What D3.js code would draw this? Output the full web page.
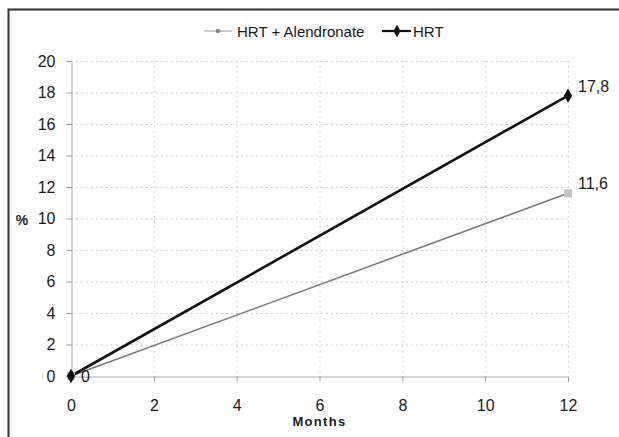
<!DOCTYPE html>
<html>
<head>
<meta charset="utf-8">
<script src="https://cdn.jsdelivr.net/npm/d3@7"></script>
<style>
  body { margin: 0; background: #fff; }
  svg { display: block; font-family: Arial, "Liberation Sans", sans-serif; }
</style>
</head>
<body>
<svg id="chart" width="619" height="437"></svg>
<script>
// data
var months = [0, 12];
var hrtAlendronate = [0, 11.6];
var hrt = [0, 17.8];
var xTicks = [0, 2, 4, 6, 8, 10, 12];
var yTicks = [0, 2, 4, 6, 8, 10, 12, 14, 16, 18, 20];
var seriesNames = ['HRT + Alendronate', 'HRT'];

var svg = d3.select('#chart');

// frame (top and left edge only, like the scan)
svg.append('path')
   .attr('d', 'M8.5,437 V9.5 H619')
   .attr('fill', 'none')
   .attr('stroke', '#333')
   .attr('stroke-width', 2);

var x = d3.scaleLinear().domain([0, 12]).range([71, 568]);
var y = d3.scaleLinear().domain([0, 20]).range([376, 61]);

// gridlines
svg.append('g').selectAll('line')
   .data(yTicks.filter(function(d){ return d > 0; }))
   .enter().append('line')
   .attr('x1', x(0)).attr('x2', x(12))
   .attr('y1', function(d){ return y(d) + 0.5; })
   .attr('y2', function(d){ return y(d) + 0.5; })
   .attr('stroke', '#bdbdbd')
   .attr('stroke-dasharray', '1.5,3.5');

svg.append('g').selectAll('line')
   .data(xTicks.filter(function(d){ return d > 0; }))
   .enter().append('line')
   .attr('x1', function(d){ return x(d) + 0.5; })
   .attr('x2', function(d){ return x(d) + 0.5; })
   .attr('y1', y(20)).attr('y2', y(0))
   .attr('stroke', '#c8c8c8')
   .attr('stroke-dasharray', '1.5,3.5');

// axes
var xAxis = svg.append('g')
   .attr('transform', 'translate(0,' + (y(0) + 0.5) + ')')
   .call(d3.axisBottom(x).tickValues(xTicks).tickSize(5).tickPadding(18));
var yAxis = svg.append('g')
   .attr('transform', 'translate(' + (x(0) + 0.5) + ',0)')
   .call(d3.axisLeft(y).tickValues(yTicks).tickSize(5).tickPadding(11));

[xAxis, yAxis].forEach(function(a){
  a.select('.domain').attr('stroke', '#aaa');
  a.selectAll('.tick line').attr('stroke', '#999');
  a.selectAll('.tick text').attr('font-size', 16).attr('fill', '#1a1a1a')
   .attr('font-family', 'Arial, "Liberation Sans", sans-serif');
});

// axis titles
svg.append('text')
   .attr('x', x(6)).attr('y', 426)
   .attr('text-anchor', 'middle')
   .attr('font-size', 13).attr('font-weight', 'bold')
   .attr('letter-spacing', 1.3)
   .attr('fill', '#1a1a1a')
   .text('Months');
svg.append('text')
   .attr('x', 22).attr('y', y(10) + 6)
   .attr('text-anchor', 'middle')
   .attr('font-size', 14).attr('font-weight', 'bold')
   .attr('fill', '#1a1a1a')
   .text('%');

var line = d3.line()
   .x(function(d){ return x(d[0]); })
   .y(function(d){ return y(d[1]); });

var grey = d3.zip(months, hrtAlendronate);
var black = d3.zip(months, hrt);

svg.append('path').datum(grey)
   .attr('d', line).attr('fill', 'none')
   .attr('stroke', '#7a7a7a').attr('stroke-width', 1.6);
svg.append('path').datum(black)
   .attr('d', line).attr('fill', 'none')
   .attr('stroke', '#111').attr('stroke-width', 2.6);

// markers
svg.append('g').selectAll('rect')
   .data(grey).enter().append('rect')
   .attr('x', function(d){ return x(d[0]) - 4; })
   .attr('y', function(d){ return y(d[1]) - 4; })
   .attr('width', 8).attr('height', 8)
   .attr('fill', '#c4c4c4');
var diamond = d3.symbol().type(d3.symbolDiamond).size(60);
svg.append('g').selectAll('path')
   .data(black).enter().append('path')
   .attr('transform', function(d){ return 'translate(' + x(d[0]) + ',' + y(d[1]) + ')'; })
   .attr('d', diamond)
   .attr('fill', '#111');

// data labels
var labels = [
  { m: months[1], v: hrt[1], t: '17,8' },
  { m: months[1], v: hrtAlendronate[1], t: '11,6' },
  { m: months[0], v: hrt[0], t: '0' }
];
svg.append('g').selectAll('text')
   .data(labels).enter().append('text')
   .attr('x', function(d){ return x(d.m) + 10; })
   .attr('y', function(d){ return y(d.v) - (d.m ? 4 : -6); })
   .attr('font-size', 16).attr('fill', '#1a1a1a')
   .text(function(d){ return d.t; });

// legend
var legend = svg.append('g').attr('transform', 'translate(0,31)');
legend.append('line').attr('x1', 204).attr('x2', 232).attr('y1', 0).attr('y2', 0)
   .attr('stroke', '#aaa').attr('stroke-width', 1.2);
legend.append('circle').attr('cx', 218).attr('cy', 0).attr('r', 2.3).attr('fill', '#888');
legend.append('text').attr('x', 237).attr('y', 5.5)
   .attr('font-size', 15).attr('fill', '#1a1a1a').text(seriesNames[0]);
legend.append('line').attr('x1', 382).attr('x2', 411).attr('y1', 0).attr('y2', 0)
   .attr('stroke', '#111').attr('stroke-width', 2.2);
legend.append('path').attr('transform', 'translate(397,0)')
   .attr('d', d3.symbol().type(d3.symbolDiamond).size(45)).attr('fill', '#111');
legend.append('text').attr('x', 413).attr('y', 5.5)
   .attr('font-size', 15).attr('fill', '#1a1a1a').text(seriesNames[1]);
</script>
</body>
</html>
